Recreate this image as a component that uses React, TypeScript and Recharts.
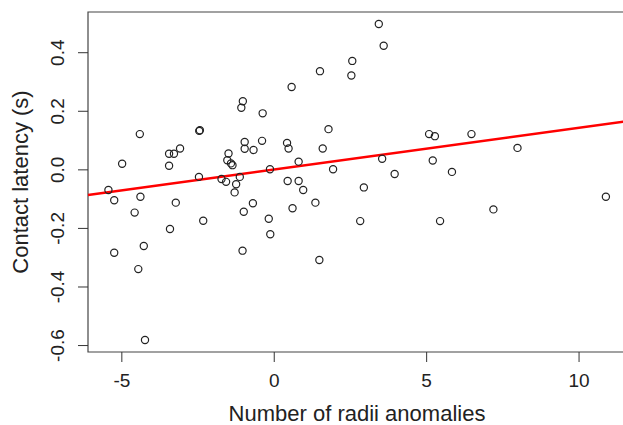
import { ScatterChart, Scatter, XAxis, YAxis, ReferenceLine, ReferenceArea } from 'recharts';

// Number of radii anomalies (x) and contact latency in seconds (y)
const radiiAnomalies = [
  -4.41, -4.99, -2.46, -2.44, -3.09, -3.29, -3.45, -3.45, -2.47, -5.44,
  -1.73, -1.5, -1.54, -1.42, -1.37, -1.58, -1.13, -1.25, -1.3, -1.03,
  -1.08, -0.38, -0.97, -0.97, -0.68, -0.4, -0.14, 0.42, 0.47, 0.8,
  0.44, 0.8, 0.95, 0.57, 1.5, 2.53, 2.56, 3.43, 3.59, 1.78,
  1.59, 1.93, 3.54, 3.95, 2.94, 5.08, 5.27, 5.2, 5.83, 6.47,
  7.98, 10.88, -5.25, -4.39, -4.58, -3.23, -3.42, -2.33, -5.25, -4.28,
  -4.46, -4.24, -1.0, -0.7, -1.04, -0.18, -0.13, 0.6, 1.35, 1.48,
  2.82, 5.44, 7.19,
];

const contactLatency = [
  0.122, 0.021, 0.133, 0.135, 0.073, 0.055, 0.055, 0.014, -0.024, -0.069,
  -0.031, 0.056, 0.033, 0.022, 0.016, -0.041, -0.024, -0.049, -0.077, 0.234,
  0.212, 0.193, 0.095, 0.072, 0.068, 0.099, 0.002, 0.092, 0.073, 0.028,
  -0.038, -0.038, -0.069, 0.283, 0.337, 0.322, 0.372, 0.498, 0.424, 0.139,
  0.073, 0.002, 0.038, -0.014, -0.06, 0.122, 0.115, 0.032, -0.007, 0.122,
  0.075, -0.092, -0.104, -0.092, -0.146, -0.112, -0.202, -0.174, -0.283, -0.26,
  -0.339, -0.581, -0.143, -0.114, -0.276, -0.167, -0.22, -0.131, -0.112, -0.308,
  -0.175, -0.175, -0.135,
];

// fitted regression line, end points at the plot edges
const fitX = [-6.11, 11.54];
const fitY = [-0.086, 0.1655];

const xTicks = [-5, 0, 5, 10];
const yTicks = [-0.6, -0.4, -0.2, 0.0, 0.2, 0.4];
const xDomain = [-6.11, 11.54];
const yDomain = [-0.622, 0.539];

const points = radiiAnomalies.map((x, i) => ({ x, y: contactLatency[i] }));
const FONT = '"Liberation Sans", Arial, Helvetica, sans-serif';

function OpenCircle(props: any) {
  return <circle cx={props.cx} cy={props.cy} r={3.6} fill="none" stroke="#222" strokeWidth={1.2} />;
}

// R style rotated y tick labels
function YTick({ x, y, payload }: any) {
  const cx = x - 19;
  return (
    <text
      x={cx}
      y={y}
      dy="0.35em"
      transform={`rotate(-90 ${cx} ${y})`}
      textAnchor="middle"
      fontSize={19}
      fontFamily={FONT}
      fill="#222"
    >
      {payload.value.toFixed(1)}
    </text>
  );
}

export default function App() {
  return (
    <div style={{ position: 'absolute', left: 0, top: 0, width: 623, height: 425, overflow: 'hidden', background: '#fff' }}>
      <ScatterChart width={640} height={425} margin={{ top: 12, right: 14, left: 0, bottom: 0 }}>
        <XAxis
          type="number"
          dataKey="x"
          domain={xDomain}
          ticks={xTicks}
          allowDataOverflow
          axisLine={false}
          tickSize={10}
          tickMargin={12}
          height={73}
          tickLine={{ stroke: '#333' }}
          tick={{ fontSize: 19, fill: '#222', fontFamily: FONT }}
          label={{
            content: ({ viewBox }: any) => (
              <text
                x={viewBox.x + viewBox.width / 2}
                y={viewBox.y + viewBox.height - 4}
                textAnchor="middle"
                fontSize={22}
                fontFamily={FONT}
                fill="#222"
              >
                Number of radii anomalies
              </text>
            ),
          }}
        />
        <YAxis
          type="number"
          dataKey="y"
          domain={yDomain}
          ticks={yTicks}
          allowDataOverflow
          axisLine={false}
          tickSize={10}
          width={88}
          tickLine={{ stroke: '#333' }}
          tick={<YTick />}
          label={{
            content: ({ viewBox }: any) => {
              const lx = viewBox.x + 20;
              const ly = viewBox.y + viewBox.height / 2;
              return (
                <text
                  x={lx}
                  y={ly}
                  dy="0.35em"
                  transform={`rotate(-90 ${lx} ${ly})`}
                  textAnchor="middle"
                  fontSize={22}
                  fontFamily={FONT}
                  fill="#222"
                >
                  Contact latency (s)
                </text>
              );
            },
          }}
        />
        <ReferenceArea
          x1={xDomain[0]}
          x2={xDomain[1]}
          y1={yDomain[0]}
          y2={yDomain[1]}
          fill="none"
          stroke="#444"
          strokeWidth={1.2}
          ifOverflow="visible"
        />
        <Scatter data={points} shape={<OpenCircle />} isAnimationActive={false} />
        <ReferenceLine
          segment={[
            { x: fitX[0], y: fitY[0] },
            { x: fitX[1], y: fitY[1] },
          ]}
          stroke="#ff0000"
          strokeWidth={2.5}
          ifOverflow="visible"
        />
      </ScatterChart>
    </div>
  );
}
